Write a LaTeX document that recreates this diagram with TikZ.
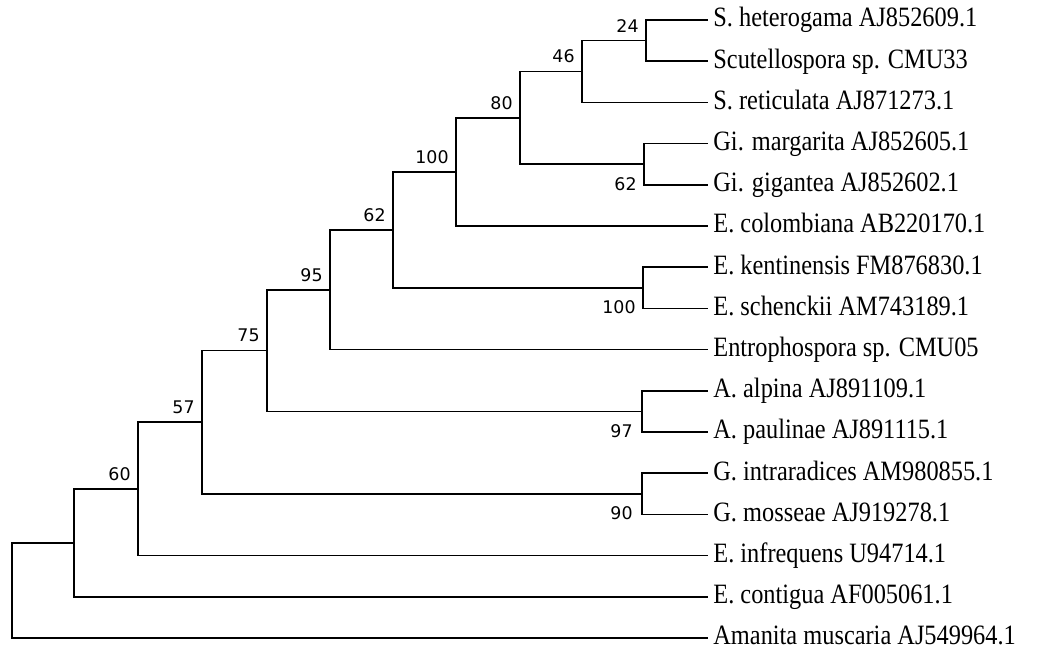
\documentclass[tikz,border=0pt]{standalone}
\usepackage{fontspec}
\setmainfont{Liberation Serif}
\newfontfamily\taxfont[FakeStretch=0.87]{Liberation Serif}
\newfontfamily\bsfont{DejaVu Sans}
\usetikzlibrary{positioning}

\begin{document}
\begin{tikzpicture}[x=0.5pt,y=-0.5pt,
    branch/.style={line width=0.85pt,line join=miter},
    taxon/.style={anchor=west,inner sep=2.5pt,text height=2ex,text depth=0.5ex,font=\taxfont\fontsize{14}{16}\selectfont},
    bs/.style={inner sep=0pt,font=\bsfont\fontsize{8.7}{10}\selectfont}]
    \useasboundingbox (0,0) rectangle (1039,655);
    % taxa
    \node [taxon] (l1) at (708,20) {S. heterogama AJ852609.1};
    \node [taxon] (l2) at (708,61.2) {Scutellospora sp. CMU33};
    \node [taxon] (l3) at (708,102.4) {S. reticulata AJ871273.1};
    \node [taxon] (l4) at (708,143.6) {Gi. margarita AJ852605.1};
    \node [taxon] (l5) at (708,184.8) {Gi. gigantea AJ852602.1};
    \node [taxon] (l6) at (708,226) {E. colombiana AB220170.1};
    \node [taxon] (l7) at (708,267.2) {E. kentinensis FM876830.1};
    \node [taxon] (l8) at (708,308.4) {E. schenckii AM743189.1};
    \node [taxon] (l9) at (708,349.6) {Entrophospora sp. CMU05};
    \node [taxon] (l10) at (708,390.8) {A. alpina AJ891109.1};
    \node [taxon] (l11) at (708,432) {A. paulinae AJ891115.1};
    \node [taxon] (l12) at (708,473.2) {G. intraradices AM980855.1};
    \node [taxon] (l13) at (708,514.4) {G. mosseae AJ919278.1};
    \node [taxon] (l14) at (708,555.6) {E. infrequens U94714.1};
    \node [taxon] (l15) at (708,596.8) {E. contigua AF005061.1};
    \node [taxon] (l16) at (708,638) {Amanita muscaria AJ549964.1};
    % internal nodes
    \coordinate (a) at (646,40.6);
    \coordinate (b) at (582,71.5);
    \coordinate (c) at (644,164.2);
    \coordinate (d) at (520,117.9);
    \coordinate (e) at (456,171.9);
    \coordinate (f) at (643,287.8);
    \coordinate (g) at (393,229.9);
    \coordinate (h) at (330,289.7);
    \coordinate (i) at (642,411.4);
    \coordinate (j) at (267,350.6);
    \coordinate (k) at (642,493.8);
    \coordinate (m) at (202,422.2);
    \coordinate (n) at (138,488.9);
    \coordinate (o) at (74,542.9);
    \coordinate (r) at (12,590.4);
    % branches
    \draw [branch] (a) |- (l1.west) (a) |- (l2.west);
    \draw [branch] (b) |- (a) (b) |- (l3.west);
    \draw [branch] (c) |- (l4.west) (c) |- (l5.west);
    \draw [branch] (d) |- (b) (d) |- (c);
    \draw [branch] (e) |- (d) (e) |- (l6.west);
    \draw [branch] (f) |- (l7.west) (f) |- (l8.west);
    \draw [branch] (g) |- (e) (g) |- (f);
    \draw [branch] (h) |- (g) (h) |- (l9.west);
    \draw [branch] (i) |- (l10.west) (i) |- (l11.west);
    \draw [branch] (j) |- (h) (j) |- (i);
    \draw [branch] (k) |- (l12.west) (k) |- (l13.west);
    \draw [branch] (m) |- (j) (m) |- (k);
    \draw [branch] (n) |- (m) (n) |- (l14.west);
    \draw [branch] (o) |- (n) (o) |- (l15.west);
    \draw [branch] (r) |- (o) (r) |- (l16.west);
    % bootstrap values
    \node [bs,anchor=south east] (bsa) at ([shift={(-7,-8)}]a) {24};
    \node [bs,anchor=south east] (bsb) at ([shift={(-7,-8)}]b) {46};
    \node [bs,anchor=south east] (bsd) at ([shift={(-7,-8)}]d) {80};
    \node [bs,anchor=south east] (bse) at ([shift={(-7,-8)}]e) {100};
    \node [bs,anchor=south east] (bsg) at ([shift={(-7,-8)}]g) {62};
    \node [bs,anchor=south east] (bsh) at ([shift={(-7,-8)}]h) {95};
    \node [bs,anchor=south east] (bsj) at ([shift={(-7,-8)}]j) {75};
    \node [bs,anchor=south east] (bsm) at ([shift={(-7,-8)}]m) {57};
    \node [bs,anchor=south east] (bsn) at ([shift={(-7,-8)}]n) {60};
    \node [bs,anchor=east] (bsc) at (637,184) {62};
    \node [bs,anchor=east] (bsf) at (636,307) {100};
    \node [bs,anchor=east] (bsi) at (633,431) {97};
    \node [bs,anchor=east] (bsk) at (633,513) {90};
\end{tikzpicture}
\end{document}
